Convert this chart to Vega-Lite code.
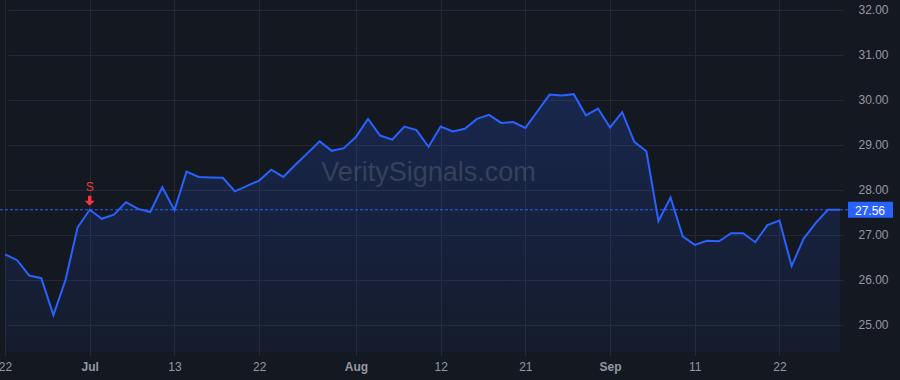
{
  "$schema": "https://vega.github.io/schema/vega-lite/v6.json",
  "width": 848,
  "height": 352,
  "autosize": {"type": "none"},
  "padding": {"left": 0, "top": 0, "right": 52, "bottom": 28},
  "background": "#141821",
  "config": {
    "view": {"stroke": null},
    "font": "Liberation Sans"
  },
  "datasets": {
    "prices": [
      {"date": "2022-06-22", "price": 26.57},
      {"date": "2022-06-23", "price": 26.44},
      {"date": "2022-06-24", "price": 26.10},
      {"date": "2022-06-27", "price": 26.04},
      {"date": "2022-06-28", "price": 25.22},
      {"date": "2022-06-29", "price": 26.00},
      {"date": "2022-06-30", "price": 27.17},
      {"date": "2022-07-01", "price": 27.56},
      {"date": "2022-07-05", "price": 27.36},
      {"date": "2022-07-06", "price": 27.45},
      {"date": "2022-07-07", "price": 27.73},
      {"date": "2022-07-08", "price": 27.58},
      {"date": "2022-07-11", "price": 27.51},
      {"date": "2022-07-12", "price": 28.06},
      {"date": "2022-07-13", "price": 27.55},
      {"date": "2022-07-14", "price": 28.41},
      {"date": "2022-07-15", "price": 28.29},
      {"date": "2022-07-18", "price": 28.28},
      {"date": "2022-07-19", "price": 28.27},
      {"date": "2022-07-20", "price": 27.97},
      {"date": "2022-07-21", "price": 28.09},
      {"date": "2022-07-22", "price": 28.21},
      {"date": "2022-07-25", "price": 28.45},
      {"date": "2022-07-26", "price": 28.29},
      {"date": "2022-07-27", "price": 28.56},
      {"date": "2022-07-28", "price": 28.82},
      {"date": "2022-07-29", "price": 29.08},
      {"date": "2022-07-30", "price": 28.87},
      {"date": "2022-07-31", "price": 28.93},
      {"date": "2022-08-01", "price": 29.18},
      {"date": "2022-08-02", "price": 29.58},
      {"date": "2022-08-03", "price": 29.21},
      {"date": "2022-08-04", "price": 29.12},
      {"date": "2022-08-05", "price": 29.41},
      {"date": "2022-08-08", "price": 29.33},
      {"date": "2022-08-09", "price": 28.96},
      {"date": "2022-08-12", "price": 29.41},
      {"date": "2022-08-13", "price": 29.30},
      {"date": "2022-08-14", "price": 29.36},
      {"date": "2022-08-15", "price": 29.58},
      {"date": "2022-08-16", "price": 29.67},
      {"date": "2022-08-17", "price": 29.49},
      {"date": "2022-08-18", "price": 29.51},
      {"date": "2022-08-21", "price": 29.38},
      {"date": "2022-08-22", "price": 29.75},
      {"date": "2022-08-23", "price": 30.12},
      {"date": "2022-08-24", "price": 30.10},
      {"date": "2022-08-25", "price": 30.13},
      {"date": "2022-08-28", "price": 29.66},
      {"date": "2022-08-29", "price": 29.81},
      {"date": "2022-09-01", "price": 29.39},
      {"date": "2022-09-04", "price": 29.73},
      {"date": "2022-09-05", "price": 29.07},
      {"date": "2022-09-06", "price": 28.86},
      {"date": "2022-09-07", "price": 27.31},
      {"date": "2022-09-08", "price": 27.83},
      {"date": "2022-09-10", "price": 26.97},
      {"date": "2022-09-11", "price": 26.78},
      {"date": "2022-09-12", "price": 26.87},
      {"date": "2022-09-13", "price": 26.86},
      {"date": "2022-09-14", "price": 27.04},
      {"date": "2022-09-15", "price": 27.04},
      {"date": "2022-09-18", "price": 26.84},
      {"date": "2022-09-19", "price": 27.22},
      {"date": "2022-09-22", "price": 27.32},
      {"date": "2022-09-25", "price": 26.31},
      {"date": "2022-09-26", "price": 26.92},
      {"date": "2022-09-27", "price": 27.27},
      {"date": "2022-09-28", "price": 27.56},
      {"date": "2022-09-29", "price": 27.56}
    ],
    "last": [{"date": "2022-09-29", "price": 27.56, "label": "27.56"}],
    "signal": [{"date": "2022-07-01", "price": 27.56, "sig": "S"}],
    "mark": [{"date": "2022-08-09", "price": 28.38, "text": "VeritySignals.com"}]
  },
  "encoding": {
    "x": {
      "field": "date",
      "type": "ordinal",
      "sort": null,
      "scale": {"type": "point", "range": [5, 840], "padding": 0},
      "axis": {
        "title": null,
        "values": ["2022-06-22", "2022-07-01", "2022-07-13", "2022-07-22", "2022-08-01", "2022-08-12", "2022-08-21", "2022-09-01", "2022-09-11", "2022-09-22"],
        "labelExpr": "datum.value == '2022-07-01' ? 'Jul' : datum.value == '2022-08-01' ? 'Aug' : datum.value == '2022-09-01' ? 'Sep' : substring(datum.value, 8, 10)",
        "labelAngle": 0,
        "labelFontSize": 12,
        "labelColor": "#9598a1",
        "labelFontWeight": {"condition": {"test": "datum.value == '2022-07-01' || datum.value == '2022-08-01' || datum.value == '2022-09-01'", "value": "bold"}, "value": "normal"},
        "labelPadding": 6,
        "labelOverlap": false,
        "labelBound": false,
        "labelFlush": false,
        "domain": false,
        "ticks": true,
        "tickSize": 3,
        "tickColor": "#2a2e39",
        "grid": true,
        "gridColor": "#242833",
        "gridWidth": 1
      }
    },
    "y": {
      "field": "price",
      "type": "quantitative",
      "scale": {"domain": [24.4, 32.222], "nice": false, "zero": false},
      "axis": {
        "title": null,
        "orient": "right",
        "values": [25, 26, 27, 28, 29, 30, 31, 32],
        "format": ".2f",
        "labelFontSize": 12,
        "labelColor": "#9598a1",
        "labelPadding": 10,
        "domain": false,
        "ticks": false,
        "grid": true,
        "gridColor": "#242833",
        "gridWidth": 1
      }
    }
  },
  "layer": [
    {
      "data": {"name": "prices"},
      "mark": {
        "type": "area",
        "interpolate": "linear",
        "color": {
          "gradient": "linear",
          "x1": 0, "y1": 0, "x2": 0, "y2": 1,
          "stops": [
            {"offset": 0, "color": "rgba(41,98,255,0.20)"},
            {"offset": 1, "color": "rgba(41,98,255,0.05)"}
          ]
        }
      },
      "encoding": {"y2": {"datum": 24.4}}
    },
    {
      "data": {"name": "mark"},
      "mark": {"type": "text", "fontSize": 27, "font": "Liberation Sans", "color": "#9598a1", "opacity": 0.25, "align": "center", "baseline": "middle"},
      "encoding": {"text": {"field": "text"}}
    },
    {
      "data": {"name": "prices"},
      "mark": {"type": "line", "color": "#2962ff", "strokeWidth": 2, "interpolate": "linear"}
    },
    {
      "data": {"name": "last"},
      "mark": {"type": "rule", "color": "#2962ff", "strokeWidth": 1, "strokeDash": [3, 2]},
      "encoding": {"x": null}
    },
    {
      "data": {"name": "last"},
      "mark": {"type": "point", "filled": true, "opacity": 1, "color": "#2962ff", "size": 2025, "shape": "M-1,-0.356L1,-0.356L1,0.356L-1,0.356Z", "xOffset": 30.5, "clip": false}
    },
    {
      "data": {"name": "last"},
      "mark": {"type": "text", "color": "#ffffff", "fontSize": 12, "align": "center", "baseline": "middle", "dx": 30, "dy": 1, "clip": false},
      "encoding": {"text": {"field": "label"}}
    },
    {
      "data": {"name": "signal"},
      "mark": {"type": "point", "filled": true, "opacity": 1, "color": "#f23645", "size": 100, "shape": "M-0.35,-1L0.35,-1L0.35,0L1,0L0,1L-1,0L-0.35,0Z", "yOffset": -9}
    },
    {
      "data": {"name": "signal"},
      "mark": {"type": "text", "color": "#f23645", "fontSize": 12, "align": "center", "baseline": "middle", "dy": -23},
      "encoding": {"text": {"field": "sig"}}
    }
  ]
}
